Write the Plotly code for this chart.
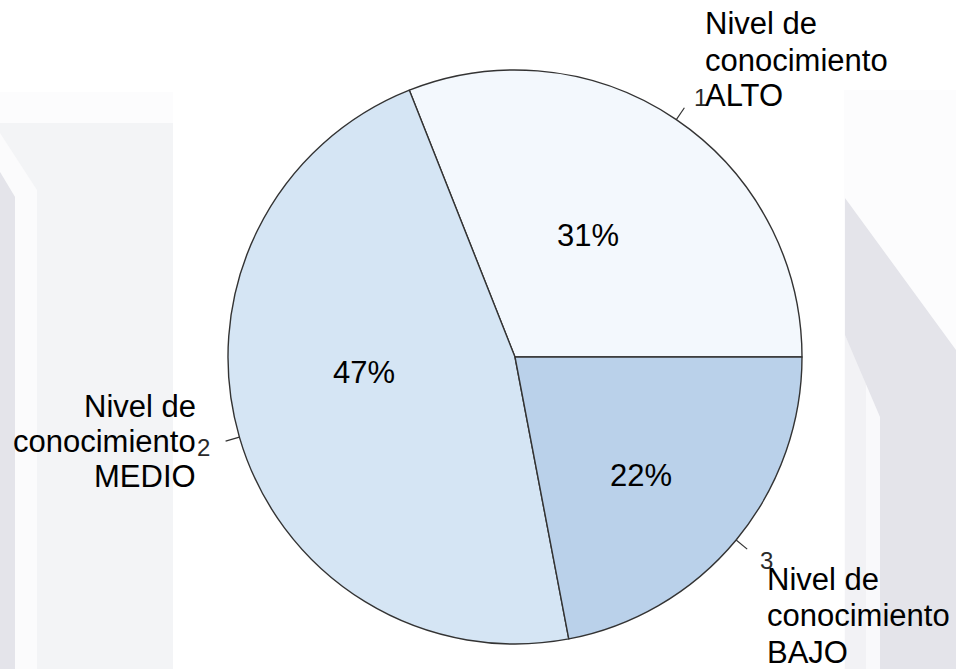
import math
import plotly.graph_objects as go

# ---- data -------------------------------------------------------------
categories = ["Nivel de conocimiento ALTO",
              "Nivel de conocimiento MEDIO",
              "Nivel de conocimiento BAJO"]
label_lines = [["Nivel de", "conocimiento", "ALTO"],
               ["Nivel de", "conocimiento", "MEDIO"],
               ["Nivel de", "conocimiento", "BAJO"]]
slice_ids = ["1", "2", "3"]
percentages = [31, 47, 22]

# ---- styling ----------------------------------------------------------
W, H = 956, 669
slice_colors = ["#f3f8fd", "#d5e5f4", "#bad1ea"]
edge_color = "#333333"
FONT = "Liberation Sans, Arial, Helvetica, sans-serif"
TEXT_SIZE = 31
ID_SIZE = 24

# pie geometry in pixels
CX, CY, R = 515, 357, 287

# placement of the in-slice percentages: radius fraction and angle nudge
pct_radius = [0.495, 0.528, 0.602]
pct_nudge = [3.3, -10.5, -3.5]

# callout text blocks: anchor x, first-line centre y, line step, alignment
callout_x = [703, 198, 765]
callout_y0 = [24, 406, 579]
callout_step = [36, 35.5, 36.5]
callout_align = ["left", "right", "left"]


def px(x):
    return x / W


def py(y):
    return 1 - y / H


fig = go.Figure()

# ---- faint background panels ------------------------------------------
def poly(points, color):
    d = "M " + " L ".join(f"{px(x):.5f},{py(y):.5f}" for x, y in points) + " Z"
    return dict(type="path", xref="paper", yref="paper", path=d,
                fillcolor=color, line=dict(width=0), layer="below")


shapes = [
    # left panel
    poly([(0, 92), (173, 92), (173, 123), (0, 123)], "#fcfcfd"),
    poly([(0, 123), (173, 123), (173, 669), (0, 669)], "#f3f4f6"),
    poly([(0, 133), (37, 190), (37, 669), (15, 669), (15, 197), (0, 172)], "#fbfbfc"),
    poly([(0, 172), (15, 197), (15, 669), (0, 669)], "#e4e4ea"),
    # right panel
    poly([(844, 90), (956, 90), (956, 669), (844, 669)], "#fcfcfd"),
    poly([(845, 335), (866, 380), (866, 669), (845, 669)], "#f2f2f5"),
    poly([(866, 380), (880, 417), (880, 669), (866, 669)], "#f9f9fb"),
    poly([(845, 198), (956, 350), (956, 669), (880, 669), (880, 417), (845, 335)], "#e4e4ea"),
]

# ---- pie ---------------------------------------------------------------
# counterclockwise from 3 o'clock: with this direction plotly ends the first
# slice at `rotation`, so shift it by the first slice's share
total = sum(percentages)
first_share = percentages[0] / total * 360
fig.add_trace(go.Pie(
    labels=categories,
    values=percentages,
    sort=False,
    direction="counterclockwise",
    rotation=90 - first_share,
    marker=dict(colors=slice_colors, line=dict(color=edge_color, width=1.4)),
    textinfo="none",
    hoverinfo="label+percent",
    showlegend=False,
    domain=dict(x=[px(CX - R), px(CX + R)], y=[py(CY + R), py(CY - R)]),
))

# ---- ticks, slice ids, percentages, callouts --------------------------
annotations = []
start = 0.0
for i, v in enumerate(percentages):
    frac = v / total
    mid = math.radians((start + frac / 2) * 360)
    start += frac
    c, s = math.cos(mid), math.sin(mid)

    # tick from the rim outwards
    shapes.append(dict(type="line", xref="paper", yref="paper",
                       x0=px(CX + R * c), y0=py(CY - R * s),
                       x1=px(CX + 1.05 * R * c), y1=py(CY - 1.05 * R * s),
                       line=dict(color=edge_color, width=1.2)))

    # slice id just beyond the tick
    annotations.append(dict(
        x=px(CX + 1.1 * R * c), y=py(CY - 1.1 * R * s + 2),
        xref="paper", yref="paper", text=slice_ids[i], showarrow=False,
        xanchor="left" if c > 0 else "right", yanchor="middle",
        font=dict(family=FONT, size=ID_SIZE, color="#2a2a2a")))

    # percentage inside the slice
    a = mid + math.radians(pct_nudge[i])
    r = pct_radius[i] * R
    annotations.append(dict(
        x=px(CX + r * math.cos(a)), y=py(CY - r * math.sin(a)),
        xref="paper", yref="paper", text=f"{v}%", showarrow=False,
        xanchor="center", yanchor="middle",
        font=dict(family=FONT, size=TEXT_SIZE, color="#000000")))

    # multi-line callout
    for k, line in enumerate(label_lines[i]):
        annotations.append(dict(
            x=px(callout_x[i]), y=py(callout_y0[i] + k * callout_step[i]),
            xref="paper", yref="paper", text=line, showarrow=False,
            xanchor=callout_align[i], yanchor="middle",
            font=dict(family=FONT, size=TEXT_SIZE, color="#000000")))

fig.update_layout(
    width=W, height=H,
    margin=dict(l=0, r=0, t=0, b=0),
    paper_bgcolor="#ffffff",
    plot_bgcolor="#ffffff",
    shapes=shapes,
    annotations=annotations,
)

fig.write_html("out.html")
